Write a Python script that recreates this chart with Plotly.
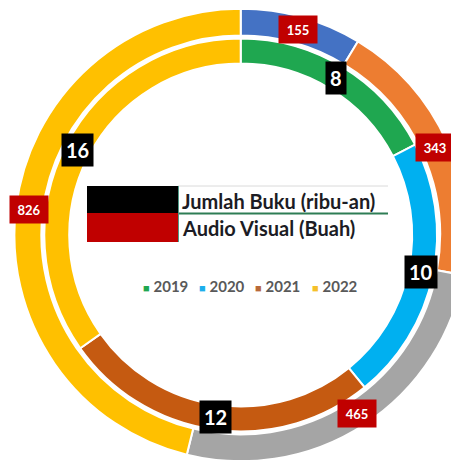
import plotly.graph_objects as go
import numpy as np

# ---- data ----
years = ["2019", "2020", "2021", "2022"]
jumlah_buku = [8, 10, 12, 16]          # inner ring, Jumlah Buku (ribu-an)
audio_visual = [155, 343, 465, 826]    # outer ring, Audio Visual (Buah)

inner_colors = ["#1FA750", "#00B0F0", "#C55A11", "#FFC000"]
outer_colors = ["#4472C4", "#ED7D31", "#A5A5A5", "#FFC000"]
legend_colors = ["#1FA750", "#1CAEEC", "#B8693A", "#F5C02A"]

# ---- geometry ----
# page has an 8px body margin; positions below are given in page pixels
W, H = 459, 460
OFF = 8
CXp, CYp = 240.7, 235.0       # page-pixel centre of the rings
R = 226.3                     # outer radius (px)
OUT_HOLE = 200 / 227
IN_R = R * 197 / 227
IN_HOLE = 172 / 197
FONT = "Lato"


def px_x(x):
    return (x - OFF) / W


def px_y(y):
    return 1 - (y - OFF) / H


def domain(r):
    return dict(x=[max(0, px_x(CXp - r)), min(1, px_x(CXp + r))],
                y=[max(0, px_y(CYp + r)), min(1, px_y(CYp - r))])


fig = go.Figure()
fig.add_trace(go.Pie(
    labels=years, values=jumlah_buku, name="Jumlah Buku (ribu-an)",
    hole=IN_HOLE, sort=False, direction="clockwise", rotation=0,
    marker=dict(colors=inner_colors, line=dict(color="white", width=2)),
    textinfo="none", domain=domain(IN_R), showlegend=False,
))
fig.add_trace(go.Pie(
    labels=years, values=audio_visual, name="Audio Visual (Buah)",
    hole=OUT_HOLE, sort=False, direction="clockwise", rotation=0,
    marker=dict(colors=outer_colors, line=dict(color="white", width=2)),
    textinfo="none", domain=domain(R), showlegend=False,
))

annotations = []


def ring_labels(values, r_mid, bg, size, w, h):
    vals = np.array(values, dtype=float)
    ends = np.cumsum(vals) / vals.sum()
    mids = ends - vals / vals.sum() / 2
    for v, m in zip(values, mids):
        th = 2 * np.pi * m
        x = CXp + r_mid * np.sin(th)
        y = CYp - r_mid * np.cos(th)
        annotations.append(dict(
            x=px_x(x), y=px_y(y), xref="paper", yref="paper",
            text=f"<b>{v}</b>", showarrow=False, bgcolor=bg,
            font=dict(family=FONT, size=size, color="white"),
            borderpad=4, height=h, width=w if w else None,
            xanchor="center", yanchor="middle",
        ))


ring_labels(audio_visual, R * (227 + 200) / 2 / 227, "#C00000", 13, 30, 19)
ring_labels(jumlah_buku, R * (197 + 172) / 2 / 227, "#000000", 20, None, 24)

# central series legend
shapes = [
    dict(type="rect", xref="paper", yref="paper", x0=px_x(87), x1=px_x(178),
         y0=px_y(213), y1=px_y(186), fillcolor="#000000", line=dict(width=0)),
    dict(type="rect", xref="paper", yref="paper", x0=px_x(87), x1=px_x(178),
         y0=px_y(242), y1=px_y(213), fillcolor="#C00000", line=dict(width=0)),
    dict(type="line", xref="paper", yref="paper", x0=px_x(178), x1=px_x(388),
         y0=px_y(186), y1=px_y(186), line=dict(color="#DADADA", width=1)),
    dict(type="line", xref="paper", yref="paper", x0=px_x(178), x1=px_x(388),
         y0=px_y(213.5), y1=px_y(213.5), line=dict(color="#2E7D55", width=2)),
    dict(type="line", xref="paper", yref="paper", x0=px_x(178.5), x1=px_x(178.5),
         y0=px_y(242), y1=px_y(186), line=dict(color="#4F9A88", width=1)),
]
for txt, yc in [("Jumlah Buku (ribu-an)", 201), ("Audio Visual (Buah)", 228)]:
    annotations.append(dict(
        x=px_x(180), y=px_y(yc), xref="paper", yref="paper", text=f"<b>{txt}</b>",
        showarrow=False, xanchor="left", yanchor="middle",
        font=dict(family=FONT, size=20, color="#1C1C24"),
    ))

# year legend
for yr, c, xl in zip(years, legend_colors, [141, 197, 253, 310]):
    annotations.append(dict(
        x=px_x(xl), y=px_y(286), xref="paper", yref="paper",
        text=f"<span style='color:{c};font-size:11px'>■</span> <b>{yr}</b>",
        showarrow=False, xanchor="left", yanchor="middle",
        font=dict(family=FONT, size=15, color="#595959"),
    ))

fig.update_layout(
    width=W, height=H, margin=dict(l=0, r=0, t=0, b=0),
    paper_bgcolor="white", plot_bgcolor="white",
    annotations=annotations, shapes=shapes, showlegend=False,
)
fig.write_html("out.html", config={"displayModeBar": False})
